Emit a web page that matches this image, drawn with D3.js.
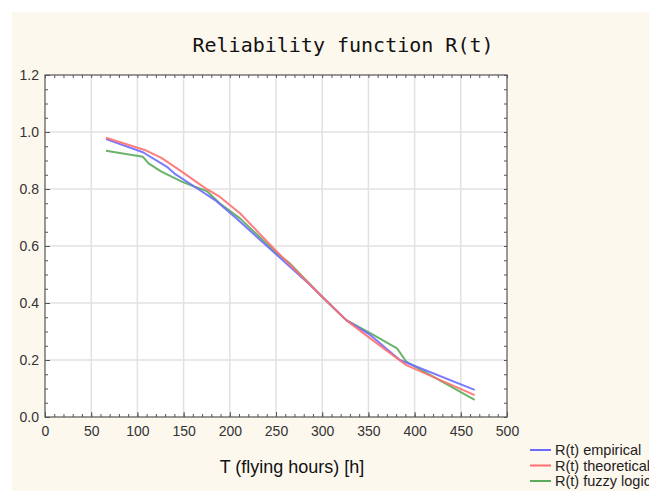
<!DOCTYPE html>
<html><head><meta charset="utf-8">
<script src="https://cdn.jsdelivr.net/npm/d3@7"></script>
<style>body{margin:0;background:#fff}svg{display:block}</style>
</head><body>
<svg id="chart" width="649" height="491"></svg>
<script>
// ---- data ----
const chartTitle = "Reliability function R(t)";
const xLabel = "T (flying hours) [h]";
const xTicks = [0, 50, 100, 150, 200, 250, 300, 350, 400, 450, 500];
const yTicks = [0.0, 0.2, 0.4, 0.6, 0.8, 1.0, 1.2];
const seriesNames = ["R(t) empirical", "R(t) theoretical", "R(t) fuzzy logic"];

const tEmpirical = [66, 106, 132, 141, 162, 184, 207, 251, 287, 298, 326, 352, 384, 465];
const rEmpirical = [0.975, 0.929, 0.878, 0.852, 0.808, 0.761, 0.697, 0.568, 0.463, 0.428, 0.340, 0.288, 0.200, 0.095];

const tTheoretical = [66, 108, 126, 148, 173, 189, 211, 251, 298, 326, 352, 391, 465];
const rTheoretical = [0.980, 0.937, 0.909, 0.861, 0.804, 0.773, 0.715, 0.580, 0.428, 0.340, 0.276, 0.182, 0.077];

const tFuzzy = [66, 106, 112, 126, 148, 162, 175, 189, 211, 251, 265, 298, 326, 352, 381, 391, 465];
const rFuzzy = [0.934, 0.913, 0.890, 0.861, 0.826, 0.808, 0.793, 0.750, 0.697, 0.574, 0.539, 0.428, 0.340, 0.294, 0.241, 0.194, 0.060];

// ---- drawing ----
const colors = ["#6b6bff", "#ff6f6f", "#5aab5a"];
const svg = d3.select("#chart");
const W = 649, H = 491;
const L = 45, R = 507, T = 75, B = 417;

svg.append("rect").attr("x", 12).attr("y", 12).attr("width", W - 12).attr("height", H - 12).attr("fill", "#fdf8ee");

const x = d3.scaleLinear().domain([0, 500]).range([L, R]);
const y = d3.scaleLinear().domain([0, 1.2]).range([B, T]);

svg.append("rect").attr("x", L).attr("y", T).attr("width", R - L).attr("height", B - T).attr("fill", "#fff");

// grid
const grid = svg.append("g");
grid.selectAll("line.gx").data(xTicks.slice(1, -1)).join("line")
  .attr("x1", d => x(d)).attr("x2", d => x(d)).attr("y1", T).attr("y2", B)
  .attr("stroke", "#e2e2e2").attr("stroke-width", 1.5);
grid.selectAll("line.gy").data(yTicks.slice(1, -1)).join("line")
  .attr("y1", d => y(d)).attr("y2", d => y(d)).attr("x1", L).attr("x2", R)
  .attr("stroke", "#e2e2e2").attr("stroke-width", 1.5);

// axes
const xMinor = d3.range(0, 501, 10);
const yMinor = d3.range(0, 1.2001, 0.05);
const tickStyle = g => { g.select(".domain").remove(); g.selectAll("line").attr("stroke", "#555"); };

svg.append("g").attr("transform", `translate(0,${B})`)
  .call(d3.axisBottom(x).tickValues(xMinor).tickSize(-3).tickFormat(""))
  .call(tickStyle);
svg.append("g").attr("transform", `translate(0,${T})`)
  .call(d3.axisTop(x).tickValues(xMinor).tickSize(-3).tickFormat(""))
  .call(tickStyle);
svg.append("g").attr("transform", `translate(${L},0)`)
  .call(d3.axisLeft(y).tickValues(yMinor).tickSize(-3).tickFormat(""))
  .call(tickStyle);
svg.append("g").attr("transform", `translate(${R},0)`)
  .call(d3.axisRight(y).tickValues(yMinor).tickSize(-3).tickFormat(""))
  .call(tickStyle);

const xAx = svg.append("g").attr("transform", `translate(0,${B})`)
  .call(d3.axisBottom(x).tickValues(xTicks).tickSize(-5).tickPadding(9).tickFormat(d3.format("d")));
xAx.select(".domain").remove();
xAx.selectAll("line").attr("stroke", "#555");
xAx.selectAll("text").attr("font-family", "Liberation Sans, Arial, sans-serif").attr("font-size", 14).attr("fill", "#333");

const yAx = svg.append("g").attr("transform", `translate(${L},0)`)
  .call(d3.axisLeft(y).tickValues(yTicks).tickSize(-5).tickPadding(6).tickFormat(d3.format(".1f")));
yAx.select(".domain").remove();
yAx.selectAll("line").attr("stroke", "#555");
yAx.selectAll("text").attr("font-family", "Liberation Sans, Arial, sans-serif").attr("font-size", 14).attr("fill", "#333");

svg.append("rect").attr("x", L).attr("y", T).attr("width", R - L).attr("height", B - T)
  .attr("fill", "none").attr("stroke", "#555").attr("stroke-width", 1.2);

// lines
const line = d3.line().x(d => x(d[0])).y(d => y(d[1]));
const series = [
  d3.zip(tEmpirical, rEmpirical),
  d3.zip(tTheoretical, rTheoretical),
  d3.zip(tFuzzy, rFuzzy)
];
const drawOrder = [2, 0, 1];
drawOrder.forEach(i => {
  svg.append("path").datum(series[i]).attr("d", line)
    .attr("fill", "none").attr("stroke", colors[i]).attr("stroke-width", 2)
    .attr("stroke-opacity", 0.9).attr("stroke-linejoin", "round");
});

// title
svg.append("text").attr("x", 343).attr("y", 52).attr("text-anchor", "middle")
  .attr("font-family", "DejaVu Sans Mono, monospace").attr("font-size", 20).attr("fill", "#111")
  .text(chartTitle);

// x label
svg.append("text").attr("x", 292).attr("y", 473).attr("text-anchor", "middle")
  .attr("font-family", "Liberation Sans, Arial, sans-serif").attr("font-size", 18).attr("fill", "#111")
  .text(xLabel);

// legend
const lg = svg.append("g");
seriesNames.forEach((name, i) => {
  const cy = 450 + i * 15.5;
  lg.append("line").attr("x1", 530).attr("x2", 551).attr("y1", cy).attr("y2", cy)
    .attr("stroke", colors[i]).attr("stroke-width", 2);
  lg.append("text").attr("x", 555).attr("y", cy + 5)
    .attr("font-family", "Liberation Sans, Arial, sans-serif").attr("font-size", 14.5).attr("fill", "#222")
    .text(name);
});
</script>
</body></html>
